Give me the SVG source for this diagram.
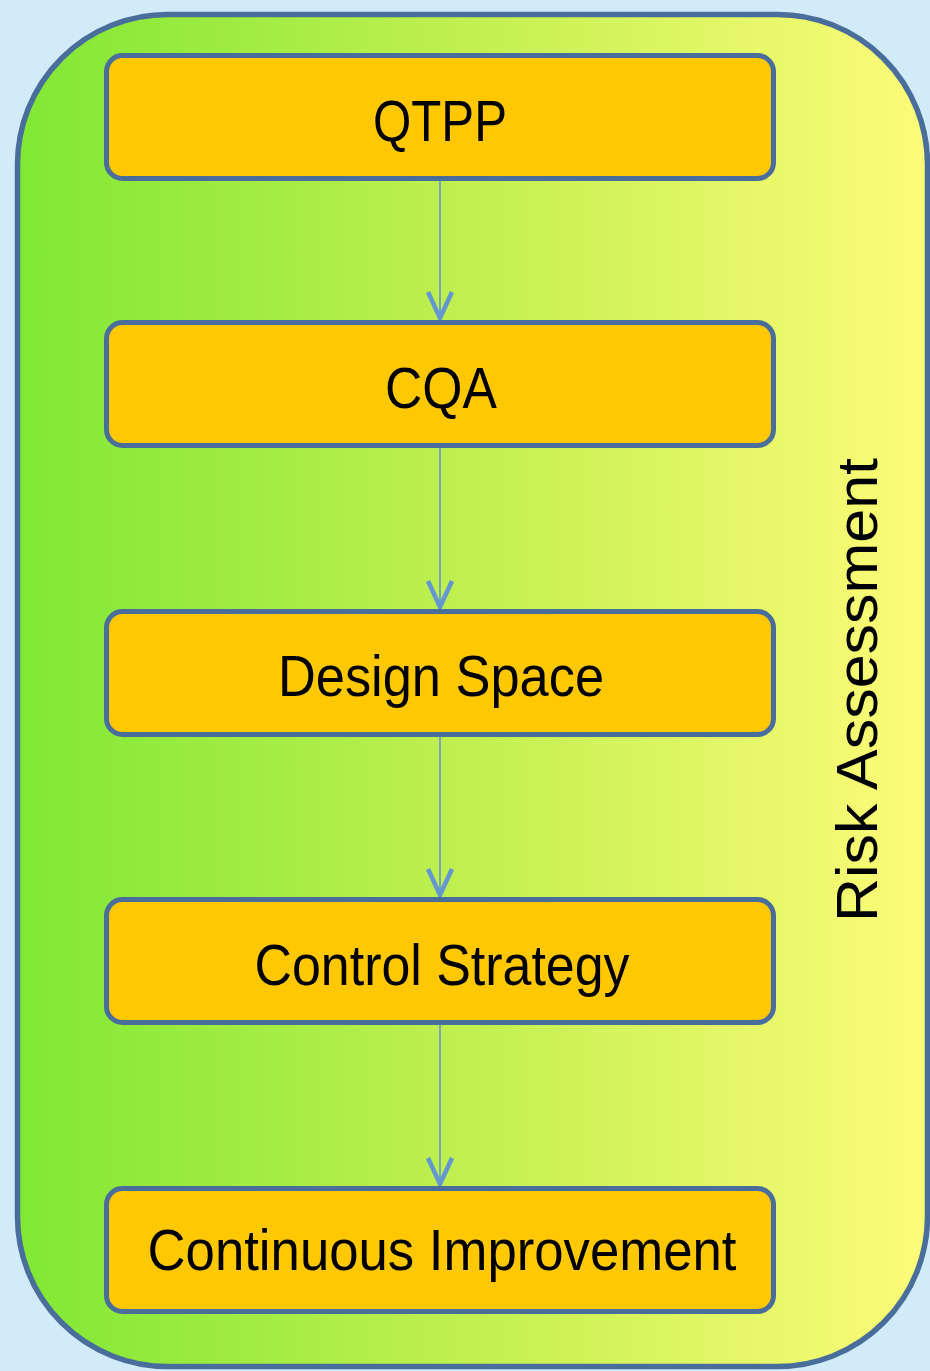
<svg xmlns="http://www.w3.org/2000/svg" width="930" height="1371" viewBox="0 0 930 1371">
<defs>
<linearGradient id="bg" x1="0" y1="0" x2="1" y2="0">
<stop offset="0" stop-color="#80e834"/>
<stop offset="0.5" stop-color="#c2f050"/>
<stop offset="1" stop-color="#fdfc78"/>
</linearGradient>
<marker id="arr" viewBox="0 0 32 30" refX="30" refY="15" markerWidth="32" markerHeight="30" markerUnits="userSpaceOnUse" orient="auto">
<path d="M3,3 L29,15 L3,27" fill="none" stroke="#6496d2" stroke-width="4.5" stroke-linejoin="miter"/>
</marker>
</defs>
<style>
.box{fill:#ffc800;stroke:#4a6e9c;stroke-width:5}
.lbl{font-family:"Liberation Sans",Arial,sans-serif;font-size:57px;fill:#000;text-anchor:middle}
.conn{stroke:#6496d2;stroke-width:1.6;fill:none}
</style>
<rect width="930" height="1371" fill="#d2ebf8"/>
<g id="container">
<rect x="17.5" y="14.5" width="910" height="1352" rx="150" ry="150" fill="url(#bg)" stroke="#4a6e9c" stroke-width="5.5"/>
<text class="lbl" transform="translate(877,690) rotate(-90)" textLength="464" lengthAdjust="spacingAndGlyphs">Risk Assessment</text>
</g>
<g id="connectors">
<line class="conn" x1="440" y1="179" x2="440" y2="319" marker-end="url(#arr)"/>
<line class="conn" x1="440" y1="446" x2="440" y2="608" marker-end="url(#arr)"/>
<line class="conn" x1="440" y1="735" x2="440" y2="896" marker-end="url(#arr)"/>
<line class="conn" x1="440" y1="1023" x2="440" y2="1185" marker-end="url(#arr)"/>
</g>
<g id="qtpp">
<rect class="box" x="106.5" y="55.5" width="667" height="123" rx="16"/>
<text class="lbl" x="440" y="141" textLength="134" lengthAdjust="spacingAndGlyphs">QTPP</text>
</g>
<g id="cqa">
<rect class="box" x="106.5" y="322.5" width="667" height="123" rx="16"/>
<text class="lbl" x="441" y="408" textLength="112" lengthAdjust="spacingAndGlyphs">CQA</text>
</g>
<g id="design-space">
<rect class="box" x="106.5" y="611.5" width="667" height="123" rx="16"/>
<text class="lbl" x="441" y="696" textLength="326" lengthAdjust="spacingAndGlyphs">Design Space</text>
</g>
<g id="control-strategy">
<rect class="box" x="106.5" y="899.5" width="667" height="123" rx="16"/>
<text class="lbl" x="442" y="985" textLength="375" lengthAdjust="spacingAndGlyphs">Control Strategy</text>
</g>
<g id="continuous-improvement">
<rect class="box" x="106.5" y="1188.5" width="667" height="123" rx="16"/>
<text class="lbl" x="442" y="1270" textLength="589" lengthAdjust="spacingAndGlyphs">Continuous Improvement</text>
</g>
</svg>
